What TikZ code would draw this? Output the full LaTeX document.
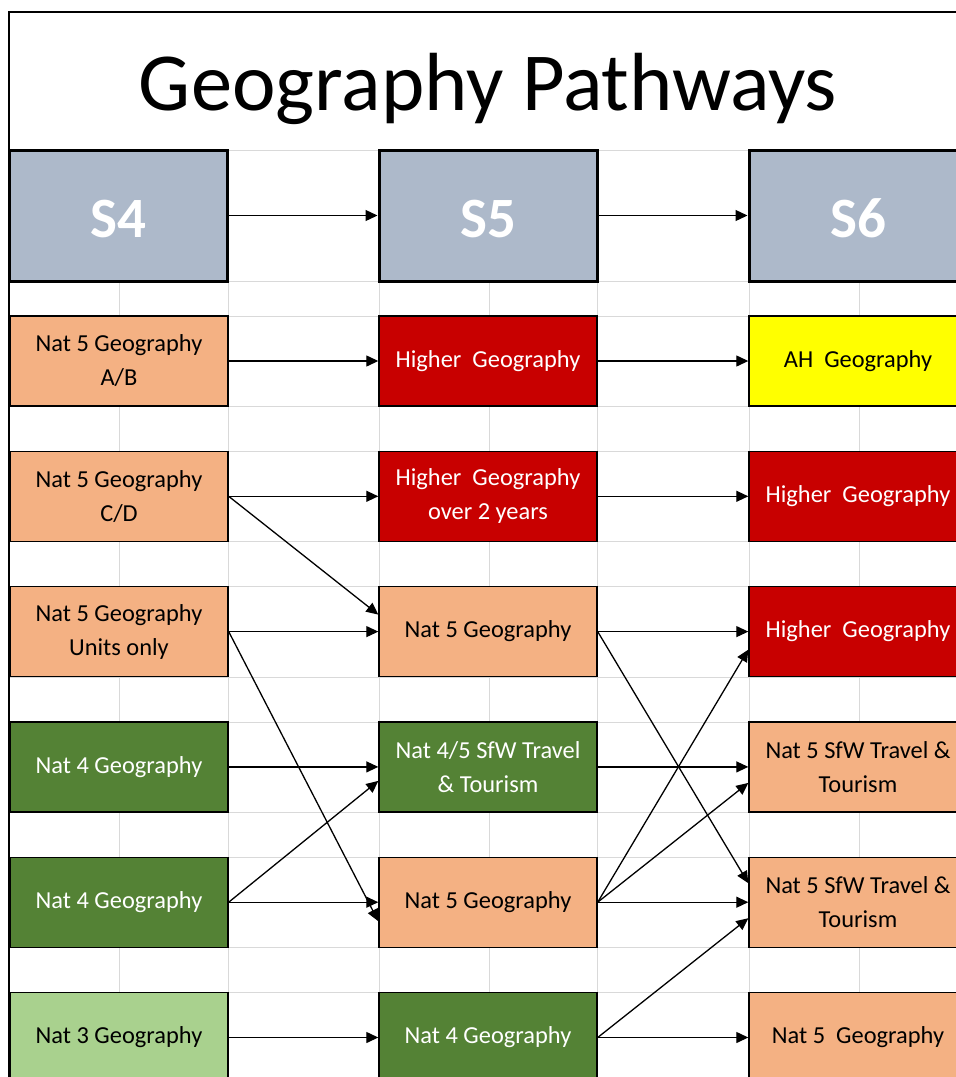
\documentclass[tikz,border=0pt]{standalone}
\usepackage{fontspec}
\setmainfont{Carlito}
\usetikzlibrary{arrows.meta}
\definecolor{peach}{HTML}{F4B183}
\definecolor{hired}{HTML}{C80000}
\definecolor{ahyellow}{HTML}{FFFF00}
\definecolor{darkgreen}{HTML}{548235}
\definecolor{lightgreen}{HTML}{A9D18E}
\definecolor{headgray}{HTML}{ADB9CA}
\definecolor{gridgray}{HTML}{D9D9D9}
\begin{document}
\begin{tikzpicture}[x=1pt,y=-1pt,
  course/.style={draw=black, line width=1.4pt, minimum width=218pt, minimum height=90pt,
    inner sep=0pt, align=center, font=\fontsize{24.4}{34}\selectfont, text=black},
  peachbox/.style={course, fill=peach},
  redbox/.style={course, fill=hired, text=white},
  yellowbox/.style={course, fill=ahyellow},
  dgreenbox/.style={course, fill=darkgreen, text=white},
  lgreenbox/.style={course, fill=lightgreen},
  yearbox/.style={draw=black, line width=3pt, fill=headgray, minimum width=218pt,
    minimum height=131pt, inner sep=0pt, text height=43pt, text depth=0pt,
    text=white, font=\fontsize{57}{60}\selectfont\bfseries},
  flow/.style={draw=black, line width=1.3pt, -{Triangle[length=12pt,width=11pt]}},
  gridline/.style={draw=gridgray, line width=1pt}
]
\useasboundingbox (0,0) rectangle (956,1077);
\clip (0,0) rectangle (956,1077);
\fill[white] (0,0) rectangle (956,1077);

% spreadsheet grid behind the boxes
\foreach \gx in {119,228,379,489,597,749,859}
  \draw[gridline] (\gx,150) -- (\gx,1077);
\foreach \gy in {150,281,316,406,451,541,586,677,722,812,857,947,992}
  \draw[gridline] (9,\gy) -- (956,\gy);

% outer frame
\draw[line width=2pt] (9,1077) -- (9,12) -- (956,12);

% title
\node[anchor=base, font=\fontsize{82.5}{90}\selectfont] (title) at (488,110) {Geography Pathways};

% year headers
\node[yearbox] (s4) at (118,215.5) {S4};
\node[yearbox] (s5) at (488,215.5) {S5};
\node[yearbox] (s6) at (858,215.5) {S6};

% S4 column
\node[peachbox]  (a1) at (119,361)    {Nat 5 Geography\\A/B};
\node[peachbox]  (a2) at (119,496.3)  {Nat 5 Geography\\C/D};
\node[peachbox]  (a3) at (119,631.6)  {Nat 5 Geography\\Units only};
\node[dgreenbox] (a4) at (119,766.9)  {Nat 4 Geography};
\node[dgreenbox] (a5) at (119,902.2)  {Nat 4 Geography};
\node[lgreenbox] (a6) at (119,1037.5) {Nat 3 Geography};

% S5 column
\node[redbox]    (b1) at (488,361)    {Higher~~Geography};
\node[redbox]    (b2) at (488,496.3)  {Higher~~Geography\\over 2 years};
\node[peachbox]  (b3) at (488,631.6)  {Nat 5 Geography};
\node[dgreenbox] (b4) at (488,766.9)  {Nat 4/5 SfW Travel\\\& Tourism};
\node[peachbox]  (b5) at (488,902.2)  {Nat 5 Geography};
\node[dgreenbox] (b6) at (488,1037.5) {Nat 4 Geography};

% S6 column
\node[yellowbox] (c1) at (858,361)    {AH~~Geography};
\node[redbox]    (c2) at (858,496.3)  {Higher~~Geography};
\node[redbox]    (c3) at (858,631.6)  {Higher~~Geography};
\node[peachbox]  (c4) at (858,766.9)  {Nat 5 SfW Travel \&\\Tourism};
\node[peachbox]  (c5) at (858,902.2)  {Nat 5 SfW Travel \&\\Tourism};
\node[peachbox]  (c6) at (858,1037.5) {Nat 5~~Geography};

% year progression
\draw[flow] (s4.east) -- (s5.west);
\draw[flow] (s5.east) -- (s6.west);

% S4 to S5
\draw[flow] (a1.east) -- (b1.west);
\draw[flow] (a2.east) -- (b2.west);
\draw[flow] (a2.east) -- ([yshift=17pt]b3.west);
\draw[flow] (a3.east) -- (b3.west);
\draw[flow] (a3.east) -- ([yshift=-19pt]b5.west);
\draw[flow] (a4.east) -- (b4.west);
\draw[flow] (a5.east) -- ([yshift=-14pt]b4.west);
\draw[flow] (a5.east) -- (b5.west);
\draw[flow] (a6.east) -- (b6.west);

% S5 to S6
\draw[flow] (b1.east) -- (c1.west);
\draw[flow] (b2.east) -- (c2.west);
\draw[flow] (b3.east) -- (c3.west);
\draw[flow] (b3.east) -- ([yshift=19pt]c5.west);
\draw[flow] (b4.east) -- (c4.west);
\draw[flow] (b5.east) -- ([yshift=-18pt]c3.west);
\draw[flow] (b5.east) -- ([yshift=-16pt]c4.west);
\draw[flow] (b5.east) -- (c5.west);
\draw[flow] (b6.east) -- ([yshift=-16pt]c5.west);
\draw[flow] (b6.east) -- (c6.west);
\end{tikzpicture}
\end{document}
